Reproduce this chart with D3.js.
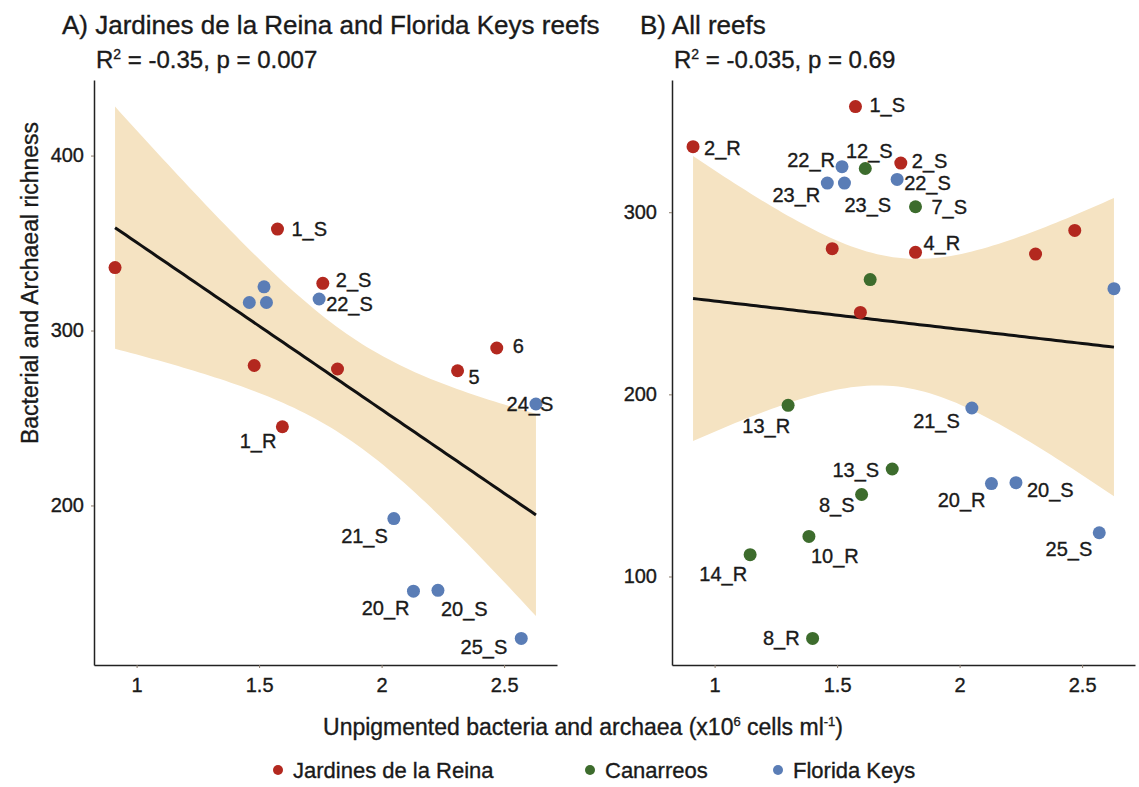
<!DOCTYPE html>
<html>
<head>
<meta charset="utf-8">
<script src="https://cdn.jsdelivr.net/npm/d3@7"></script>
<style>
  body { margin: 0; background: #fff; }
  svg text { font-family: "Liberation Sans", Arial, sans-serif; fill: #1a1a1a; stroke: #1a1a1a; stroke-width: 0.35px; }
</style>
</head>
<body>
<div id="chart"></div>
<script>
// sample values
const sampleX = [0.912, 1.575, 1.76, 1.48, 1.82, 2.31, 2.47, 1.595,
  1.52, 1.46, 1.53, 1.745, 2.63, 2.05, 2.13, 2.23, 2.57,
  1.615, 1.82, 1.635, 1.30, 1.725, 1.60, 1.385, 1.145, 1.40];
const sampleY = [336, 358, 327, 280, 278, 277, 290, 245,
  325, 316, 316, 318, 258, 192.5, 151, 151.5, 124,
  324, 303, 263, 194, 159, 145, 122, 112, 66];
const sampleRegion = ["JR", "JR", "JR", "JR", "JR", "JR", "JR", "JR",
  "FK", "FK", "FK", "FK", "FK", "FK", "FK", "FK", "FK",
  "CA", "CA", "CA", "CA", "CA", "CA", "CA", "CA", "CA"];
const labelA = ["", "1_S", "2_S", "", "", "5", "6", "1_R",
  "", "", "", "22_S", "24_S", "21_S", "20_R", "20_S", "25_S",
  "", "", "", "", "", "", "", "", ""];
const labelB = ["2_R", "1_S", "2_S", "", "4_R", "", "", "",
  "22_R", "23_R", "23_S", "22_S", "", "21_S", "20_R", "20_S", "25_S",
  "12_S", "7_S", "", "13_R", "13_S", "8_S", "10_R", "14_R", "8_R"];

const regionKeys = ["JR", "CA", "FK"];
const regionNames = ["Jardines de la Reina", "Canarreos", "Florida Keys"];
const regionColors = ["#b3281f", "#3d6c2d", "#5a7db6"];

const xTicks = [1, 1.5, 2, 2.5];
const yTicksA = [200, 300, 400];
const yTicksB = [100, 200, 300];

const titleA = "A) Jardines de la Reina and Florida Keys reefs";
const titleB = "B) All reefs";
const statA = ["-0.35", "0.007"];
const statB = ["-0.035", "0.69"];

// label placement [dx, dy, anchor]
const nudgeA = {
  "1_S": [14, 0, "start"], "2_S": [13, -3, "start"], "22_S": [7, 5, "start"],
  "6": [16, -2, "start"], "5": [11, 6, "start"], "24_S": [-6, 0, "middle"],
  "1_R": [-6, 14, "end"], "21_S": [-6, 17, "end"], "20_R": [-4, 17, "end"],
  "20_S": [3, 19, "start"], "25_S": [-14, 9, "end"]
};
const nudgeB = {
  "1_S": [14, -2, "start"], "2_R": [11, 1, "start"], "22_R": [-7, -7, "end"],
  "12_S": [4, -18, "middle"], "2_S": [11, -2, "start"], "23_R": [-7, 12, "end"],
  "23_S": [0, 22, "start"], "22_S": [7, 4, "start"], "7_S": [16, 0, "start"],
  "4_R": [8, -9, "start"], "13_R": [2, 21, "end"], "21_S": [-12, 13, "end"],
  "13_S": [-13, 1, "end"], "8_S": [-7, 10, "end"], "20_R": [-6, 16, "end"],
  "20_S": [11, 7, "start"], "10_R": [2, 20, "start"], "14_R": [-3, 19, "end"],
  "25_S": [-7, 16, "end"], "8_R": [-13, 0, "end"]
};

const tCrit = { 15: 2.131, 24: 2.064 };

const width = 1139, height = 787;
const plotTop = 80, plotBottom = 665;

const svg = d3.select("#chart").append("svg")
  .attr("width", width).attr("height", height);

const color = d3.scaleOrdinal().domain(regionKeys).range(regionColors);

const samples = sampleX.map((x, i) => ({
  x: x, y: sampleY[i], region: sampleRegion[i], la: labelA[i], lb: labelB[i]
}));

function fit(pts) {
  const n = pts.length;
  const mx = d3.mean(pts, d => d.x), my = d3.mean(pts, d => d.y);
  const sxx = d3.sum(pts, d => (d.x - mx) ** 2);
  const sxy = d3.sum(pts, d => (d.x - mx) * (d.y - my));
  const b = sxy / sxx, a = my - b * mx;
  const s2 = d3.sum(pts, d => (d.y - a - b * d.x) ** 2) / (n - 2);
  const t = tCrit[n - 2];
  const [x0, x1] = d3.extent(pts, d => d.x);
  const band = d3.range(81).map(k => {
    const x = x0 + (x1 - x0) * k / 80;
    const yh = a + b * x;
    const se = Math.sqrt(s2 * (1 / n + (x - mx) ** 2 / sxx));
    return { x: x, y: yh, lo: yh - t * se, hi: yh + t * se };
  });
  return band;
}

function panel(pts, left, right, yTicks, title, stat, labelKey, nudge, tickPad) {
  const band = fit(pts);
  const xe = d3.extent(pts, d => d.x);
  const ylo = Math.min(d3.min(pts, d => d.y), d3.min(band, d => d.lo));
  const yhi = Math.max(d3.max(pts, d => d.y), d3.max(band, d => d.hi));
  const xr = xe[1] - xe[0], yr = yhi - ylo;

  const x = d3.scaleLinear().domain([xe[0] - xr * 0.05, xe[1] + xr * 0.05]).range([left, right]);
  const y = d3.scaleLinear().domain([ylo - yr * 0.05, yhi + yr * 0.05]).range([plotBottom, plotTop]);

  const g = svg.append("g");

  g.append("path")
    .datum(band)
    .attr("fill", "#f5e3c2")
    .attr("d", d3.area().x(d => x(d.x)).y0(d => y(d.lo)).y1(d => y(d.hi)));

  g.append("path")
    .datum(band)
    .attr("fill", "none")
    .attr("stroke", "#111")
    .attr("stroke-width", 3)
    .attr("d", d3.line().x(d => x(d.x)).y(d => y(d.y)));

  const xAxis = g.append("g")
    .attr("transform", `translate(0,${plotBottom})`)
    .call(d3.axisBottom(x).tickValues(xTicks).tickSize(3).tickSizeOuter(0).tickPadding(10).tickFormat(d3.format("")));
  const yAxis = g.append("g")
    .attr("transform", `translate(${left},0)`)
    .call(d3.axisLeft(y).tickValues(yTicks).tickSize(3).tickSizeOuter(0).tickPadding(tickPad));
  [xAxis, yAxis].forEach(ax => {
    ax.select(".domain").attr("stroke", "#222").attr("stroke-width", 1.5);
    ax.selectAll(".tick line").attr("stroke", "#8a7a6a");
    ax.selectAll(".tick text").attr("font-size", 20).attr("fill", "#1a1a1a");
  });

  g.selectAll("circle.pt")
    .data(pts)
    .join("circle")
    .attr("class", "pt")
    .attr("cx", d => x(d.x))
    .attr("cy", d => y(d.y))
    .attr("r", 6.5)
    .attr("fill", d => color(d.region));

  g.selectAll("text.lbl")
    .data(pts.filter(d => d[labelKey] !== ""))
    .join("text")
    .attr("class", "lbl")
    .attr("x", d => x(d.x) + nudge[d[labelKey]][0])
    .attr("y", d => y(d.y) + nudge[d[labelKey]][1])
    .attr("text-anchor", d => nudge[d[labelKey]][2])
    .attr("dominant-baseline", "central")
    .attr("font-size", 20)
    .text(d => d[labelKey]);

  svg.append("text")
    .attr("x", left - 32)
    .attr("y", 34)
    .attr("font-size", 26)
    .text(title);

  const st = svg.append("text")
    .attr("x", left + 2)
    .attr("y", 68)
    .attr("font-size", 24);
  st.append("tspan").text("R");
  st.append("tspan").attr("font-size", 14).attr("dy", -9).text("2");
  st.append("tspan").attr("dy", 9).text(` = ${stat[0]}, p = ${stat[1]}`);
}

panel(samples.filter(d => d.region !== "CA"), 94, 557, yTicksA, titleA, statA, "la", nudgeA, 7);
panel(samples, 672, 1135, yTicksB, titleB, statB, "lb", nudgeB, 12);

svg.append("text")
  .attr("transform", "translate(38,283) rotate(-90)")
  .attr("text-anchor", "middle")
  .attr("font-size", 23)
  .text("Bacterial and Archaeal richness");

const xt = svg.append("text")
  .attr("x", 583)
  .attr("y", 735)
  .attr("text-anchor", "middle")
  .attr("font-size", 23);
xt.append("tspan").text("Unpigmented bacteria and archaea (x10");
xt.append("tspan").attr("font-size", 13).attr("dy", -9).text("6");
xt.append("tspan").attr("dy", 9).text(" cells ml");
xt.append("tspan").attr("font-size", 13).attr("dy", -9).text("-1");
xt.append("tspan").attr("dy", 9).text(")");

const legendX = [278, 590, 778];
const legend = svg.selectAll("g.leg")
  .data(regionKeys)
  .join("g")
  .attr("class", "leg")
  .attr("transform", (d, i) => `translate(${legendX[i]},770)`);
legend.append("circle").attr("r", 5).attr("fill", d => color(d));
legend.append("text")
  .attr("x", 15)
  .attr("dominant-baseline", "central")
  .attr("font-size", 22)
  .text((d, i) => regionNames[i]);
</script>
</body>
</html>
